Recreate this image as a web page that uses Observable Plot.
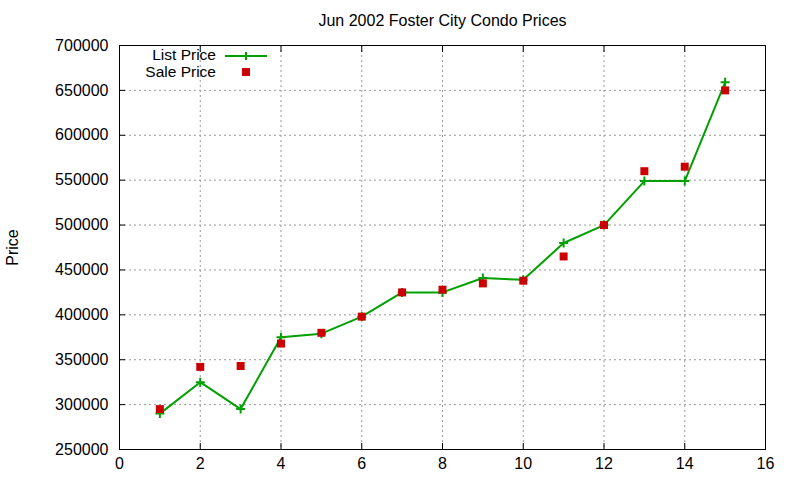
<!DOCTYPE html>
<html>
<head>
<meta charset="utf-8">
<script src="https://cdn.jsdelivr.net/npm/d3@7"></script>
<script src="https://cdn.jsdelivr.net/npm/@observablehq/plot@0.6"></script>
<style>
  html, body { margin: 0; padding: 0; background: #fff; }
  #chart svg { display: block; }
</style>
</head>
<body>
<div id="chart"></div>
<script>
const title = "Jun 2002 Foster City Condo Prices";
const yLabel = "Price";
const seriesNames = ["List Price", "Sale Price"];
const xValues = [1, 2, 3, 4, 5, 6, 7, 8, 9, 10, 11, 12, 13, 14, 15];
const listPrice = [290000, 325000, 295000, 375000, 379000, 398000, 425000, 425000, 441000, 439000, 480000, 500000, 549000, 549000, 659000];
const salePrice = [295000, 342000, 343000, 368000, 380000, 398000, 425000, 428000, 435000, 438000, 465000, 500000, 560000, 565000, 650000];
const xTicks = [0, 2, 4, 6, 8, 10, 12, 14, 16];
const yTicks = [250000, 300000, 350000, 400000, 450000, 500000, 550000, 600000, 650000, 700000];

const listData = xValues.map((x, i) => ({x, y: listPrice[i]}));
const saleData = xValues.map((x, i) => ({x, y: salePrice[i]}));

const green = "#00a000";
const red = "#cc0000";
const font = "Liberation Sans, Arial, Helvetica, sans-serif";

const mL = 119, mR = 35, mT = 45, mB = 31;
const tick = -6;

const plot = Plot.plot({
  width: 800,
  height: 480,
  marginLeft: mL,
  marginRight: mR,
  marginTop: mT,
  marginBottom: mB,
  style: {fontFamily: font, fontSize: "16px", color: "#000", background: "#fff"},
  x: {domain: [0, 16]},
  y: {domain: [250000, 700000]},
  marks: [
    Plot.gridX(xTicks.filter(t => t > 0 && t < 16), {stroke: "#999", strokeOpacity: 1, strokeDasharray: "2,3"}),
    Plot.gridY(yTicks.filter(t => t > 250000 && t < 700000), {stroke: "#999", strokeOpacity: 1, strokeDasharray: "2,3"}),
    Plot.axisX(xTicks, {anchor: "bottom", tickSize: tick, tickPadding: 14, tickFormat: d => String(d), label: null, stroke: "#000", fontSize: 16, fill: "#000"}),
    Plot.axisX(xTicks, {anchor: "top", tickSize: tick, tickFormat: () => "", label: null, stroke: "#000"}),
    Plot.axisY(yTicks, {anchor: "left", tickSize: tick, tickPadding: 17, tickFormat: d => String(d), label: yLabel, labelAnchor: "center", labelArrow: "none", labelOffset: 113, stroke: "#000", fontSize: 16, fill: "#000"}),
    Plot.axisY(yTicks, {anchor: "right", tickSize: tick, tickFormat: () => "", label: null, stroke: "#000"}),
    Plot.frame({stroke: "#000", strokeWidth: 1}),
    Plot.line(listData, {x: "x", y: "y", stroke: green, strokeWidth: 2}),
    Plot.dot(listData, {x: "x", y: "y", symbol: "plus", stroke: green, strokeWidth: 2, r: 3}),
    Plot.dot(saleData, {x: "x", y: "y", symbol: "square", fill: red, stroke: "none", r: 4.5}),
    Plot.text([title], {text: d => d, frameAnchor: "top", lineAnchor: "middle", dy: -25, fontSize: 16, fill: "#000"})
  ]
});

// Legend (inside plot, top-left), positioned relative to frame
const svg = d3.select(plot);
const lg = svg.append("g").attr("font-family", font).attr("font-size", 15.5);
const textRight = mL + 97;
const sampleX1 = mL + 106, sampleX2 = mL + 148, sampleMid = (sampleX1 + sampleX2) / 2;
const rowY = [mT + 10, mT + 27];
lg.append("text").attr("x", textRight).attr("y", rowY[0]).attr("dy", "0.35em").attr("text-anchor", "end").attr("fill", "#000").text(seriesNames[0]);
lg.append("line").attr("x1", sampleX1).attr("x2", sampleX2).attr("y1", rowY[0] + 1).attr("y2", rowY[0] + 1).attr("stroke", green).attr("stroke-width", 2);
lg.append("path").attr("d", `M${sampleMid - 4},${rowY[0] + 1}h8M${sampleMid},${rowY[0] - 3}v8`).attr("stroke", green).attr("stroke-width", 2);
lg.append("text").attr("x", textRight).attr("y", rowY[1]).attr("dy", "0.35em").attr("text-anchor", "end").attr("fill", "#000").text(seriesNames[1]);
lg.append("rect").attr("x", sampleMid - 4).attr("y", rowY[1] - 4).attr("width", 8).attr("height", 8).attr("fill", red);

document.getElementById("chart").appendChild(plot);
</script>
</body>
</html>
